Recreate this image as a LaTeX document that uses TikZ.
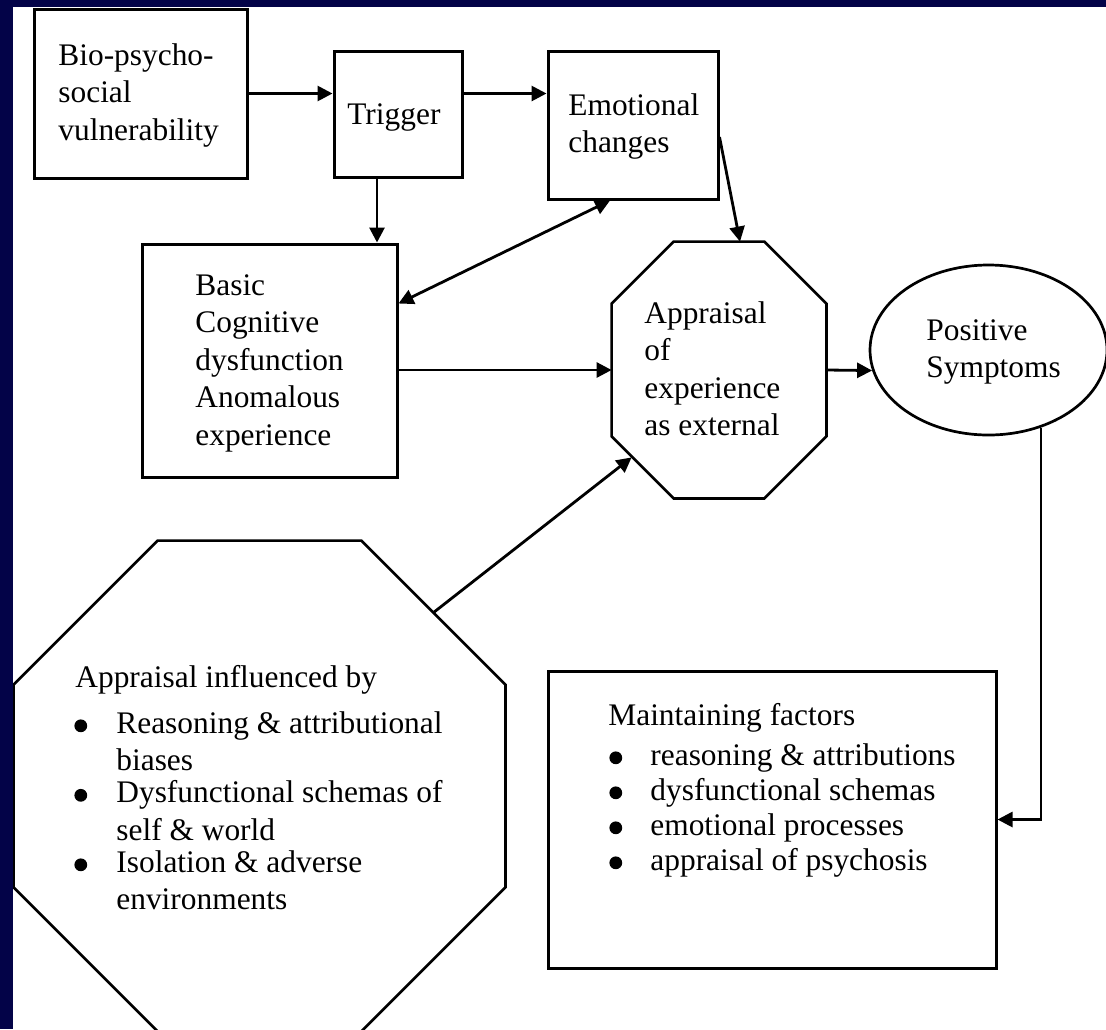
\documentclass[tikz,border=0pt]{standalone}
\usepackage{fontspec}
\setmainfont{Liberation Serif}
\usetikzlibrary{arrows.meta,calc,shapes.geometric}
\definecolor{framenavy}{RGB}{3,3,72}
\newcommand{\listdot}{\tikz[baseline=0pt,x=1pt,y=1pt]\fill (0pt,3.6pt) circle[radius=3.2pt];}
\newcommand{\bulA}{\makebox[20.5pt][l]{\hspace{-0.5pt}\listdot}}
\newcommand{\bulB}{\makebox[21pt][l]{\hspace{0.5pt}\listdot}}
\begin{document}
\begin{tikzpicture}[x=0.5pt,y=-0.5pt,
  box/.style={draw,line width=1.5pt,inner sep=0pt},
  oct/.style={draw,line width=1.35pt,line join=miter},
  txt/.style={anchor=base west,inner sep=0pt,font=\fontsize{15.7pt}{18.75pt}\selectfont},
  txtm/.style={anchor=base west,inner sep=0pt,font=\fontsize{15.7pt}{17.5pt}\selectfont},
  conn/.style={line width=1.4pt,-{Triangle[length=7.5pt,width=7.5pt]}},
  conn2/.style={line width=1.4pt,{Triangle[length=7.5pt,width=7.5pt]}-{Triangle[length=7.5pt,width=7.5pt]}}]
\clip (0,0) rectangle (1106,1029);
\fill[white] (0,0) rectangle (1106,1029);

% shapes
\node[box,minimum width=106.5pt,minimum height=84.5pt] (bio) at (140.5,93.5) {};
\node[box,minimum width=64pt,minimum height=63pt] (trig) at (398,114) {};
\node[box,minimum width=85pt,minimum height=74pt] (emo) at (633,125) {};
\node[box,minimum width=127.5pt,minimum height=116.5pt] (basic) at (269.5,360.5) {};
\node[box,minimum width=224pt,minimum height=148.5pt] (maint) at (772,819.5) {};
\node[draw,ellipse,line width=1.35pt,inner sep=0pt,minimum width=118.5pt,minimum height=85pt] (pos) at (988.5,350) {};
\node[inner sep=0pt,minimum width=107pt,minimum height=128pt] (app) at (719,370) {};
\draw[oct] ($(app.north west)+(62,0)$) -- ($(app.north east)+(-62,0)$) -- ($(app.north east)+(0,62)$)
  -- ($(app.south east)+(0,-62)$) -- ($(app.south east)+(-62,0)$) -- ($(app.south west)+(62,0)$)
  -- ($(app.south west)+(0,-62)$) -- ($(app.north west)+(0,62)$) -- cycle;
\node[inner sep=0pt,minimum width=245.5pt,minimum height=245pt] (infl) at (259.5,786) {};
\draw[oct] ($(infl.north west)+(144,0)$) -- ($(infl.north east)+(-144,0)$) -- ($(infl.north east)+(0,144)$)
  -- ($(infl.south east)+(0,-144)$) -- ($(infl.south east)+(-144,0)$) -- ($(infl.south west)+(144,0)$)
  -- ($(infl.south west)+(0,-144)$) -- ($(infl.north west)+(0,144)$) -- cycle;

% texts
\node[txt] (biot) at (58,65) {\begin{tabular}[t]{@{}l@{}}Bio-psycho-\\social\\vulnerability\end{tabular}};
\node[txt] (trigt) at (347,124) {Trigger};
\node[txt] (emot) at (568,115) {\begin{tabular}[t]{@{}l@{}}Emotional\\changes\end{tabular}};
\node[txt] (basict) at (195,295) {\begin{tabular}[t]{@{}l@{}}Basic\\Cognitive\\dysfunction\\Anomalous\\experience\end{tabular}};
\node[txt] (appt) at (644,323) {\begin{tabular}[t]{@{}l@{}}Appraisal\\of\\experience\\as external\end{tabular}};
\node[txt] (post) at (926,340) {\begin{tabular}[t]{@{}l@{}}Positive\\Symptoms\end{tabular}};
\node[txt] (inflt) at (75,687) {\begin{tabular}[t]{@{}l@{}}Appraisal influenced by\\[4.25pt]
\bulA Reasoning \& attributional\\
\hspace{20.5pt}biases\\[-2.75pt]
\bulA Dysfunctional schemas of\\
\hspace{20.5pt}self \& world\\[-2.75pt]
\bulA Isolation \& adverse\\
\hspace{20.5pt}environments\end{tabular}};
\node[txtm] (maintt) at (608,725) {\begin{tabular}[t]{@{}l@{}}Maintaining factors\\[2.5pt]
\bulB reasoning \& attributions\\
\bulB dysfunctional schemas\\
\bulB emotional processes\\
\bulB appraisal of psychosis\end{tabular}};

% connectors
\draw[conn] (bio.east) -- (bio.east -| trig.west);
\draw[conn] (trig.east |- bio.east) -- (emo.west |- bio.east);
\coordinate (tb) at ($(trig.south)+(-21,0)$);
\draw[conn] (tb) -- (tb |- basic.north);
\draw[conn2] ($(emo.south)+(-23,0)$) -- ($(basic.east)+(0,-57)$);
\draw[conn] ($(emo.east)+(0,12)$) -- ($(app.north)+(21,0)$);
\draw[conn] (basic.east |- app.west) -- (app.west);
\draw[conn] ($(infl.north east)+(-72,72)$) -- ($(app.south west)+(20,-41)$);
\draw[conn] (app.east) -- (pos.190);
\draw[conn] (pos.304) |- (maint.east);

% frame
\fill[framenavy] (0,0) rectangle (13,1029);
\fill[framenavy] (0,0) rectangle (1106,7);
\end{tikzpicture}
\end{document}
